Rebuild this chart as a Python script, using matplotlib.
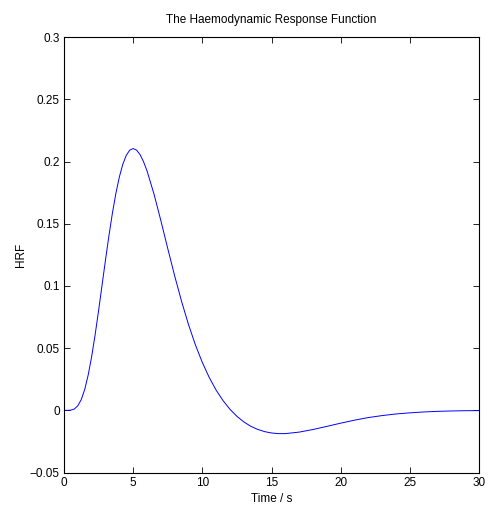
import numpy as np
import matplotlib
matplotlib.use("Agg")
import matplotlib.pyplot as plt

plt.rcParams['font.family'] = ['Liberation Sans', 'DejaVu Sans']

# values (time in s, HRF)
time = [0, 0.25, 0.5, 0.75, 1, 1.25, 1.5, 1.75, 2, 2.25, 2.5, 2.75, 3, 3.25,
        3.5, 3.75, 4, 4.25, 4.5, 4.75, 5, 5.25, 5.5, 5.75,
        6, 6.5, 7, 7.5, 8, 8.5, 9, 9.5, 10, 10.5, 11, 11.5, 12, 12.5, 13, 13.5,
        14, 14.5, 15, 15.5, 16, 17, 18, 19, 20, 21, 22, 23, 24, 25, 26, 27, 28,
        29, 30]
hrf = [0, 0.0000, 0.0002, 0.0011, 0.0037, 0.0087, 0.0169, 0.0285, 0.0433,
       0.0608, 0.0802, 0.1006, 0.1210, 0.1406,
       0.1586, 0.1744, 0.1876, 0.1978, 0.2050, 0.2092, 0.2105, 0.2092, 0.2056,
       0.1999,
       0.1926, 0.1741, 0.1526, 0.1301, 0.1081, 0.0876, 0.0690, 0.0526, 0.0385,
       0.0264, 0.0162, 0.0078, 0.0008, -0.0048, -0.0093, -0.0128,
       -0.0153, -0.0171, -0.0182, -0.0187, -0.0187, -0.0175, -0.0154, -0.0129,
       -0.0103, -0.0079, -0.0058, -0.0042, -0.0029, -0.0020, -0.0013, -0.0008,
       -0.0005, -0.0003, -0.0002]

xticks = [0, 5, 10, 15, 20, 25, 30]
yticks = [-0.05, 0, 0.05, 0.1, 0.15, 0.2, 0.25, 0.3]
ylabels = ['\u22120.05', '0', '0.05', '0.1', '0.15', '0.2', '0.25', '0.3']

fig = plt.figure(figsize=(5, 5.17), dpi=100)
ax = fig.add_axes([0.128, 0.086, 0.83, 0.842])
ax.plot(time, hrf, color='#0000ff', lw=0.7)

ax.set_xlim(0, 30)
ax.set_ylim(-0.05, 0.3)
ax.set_xticks(xticks)
ax.set_xticklabels([str(v) for v in xticks])
ax.set_yticks(yticks)
ax.set_yticklabels(ylabels)
ax.tick_params(direction='in', top=True, right=True, length=4, width=0.6,
               labelsize=8.5, pad=3)
for s in ax.spines.values():
    s.set_linewidth(0.8)

ax.set_title('The Haemodynamic Response Function', fontsize=8.5, pad=10)
ax.set_xlabel('Time / s', fontsize=8.5, labelpad=3)
ax.set_ylabel('HRF', fontsize=8.5, labelpad=2)

fig.savefig('out.png', dpi=100)
